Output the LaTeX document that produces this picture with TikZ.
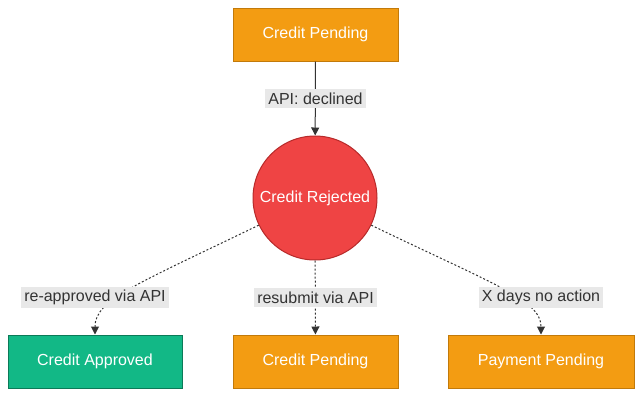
\documentclass[tikz,border=0pt]{standalone}
\usepackage{fontspec}
\setmainfont{Liberation Sans}
\usetikzlibrary{arrows.meta}
\definecolor{pend}{HTML}{F39C12}
\definecolor{pendline}{HTML}{C27A0A}
\definecolor{okfill}{HTML}{12B886}
\definecolor{okline}{HTML}{0B7A58}
\definecolor{rejfill}{HTML}{EF4444}
\definecolor{rejline}{HTML}{B72A2A}
\definecolor{ink}{HTML}{333333}
\definecolor{lblbg}{HTML}{E8E8E8}

\tikzset{
  statebox/.style={draw, line width=0.75pt, minimum height=39.75pt,
    text=white, font=\fontsize{12pt}{14pt}\selectfont},
  edgelbl/.style={fill=lblbg, text=ink, inner sep=2.5pt,
    font=\fontsize{12pt}{14pt}\selectfont},
  flow/.style={ink, line width=0.75pt, -{Triangle[length=6pt,width=6pt]}},
  dotflow/.style={flow, dash pattern=on 1.5pt off 1.5pt}
}

\begin{document}
\begin{tikzpicture}[x=0.75pt,y=-0.75pt]

  \useasboundingbox (0,0) rectangle (643,397);

  % top
  \node[statebox, fill=pend, draw=pendline, minimum width=123.75pt] (pendtop) at (315.5,34.5)
    {Credit Pending};

  % middle
  \node[circle, draw=rejline, fill=rejfill, line width=0.75pt, minimum size=93pt,
    text=white, font=\fontsize{12pt}{14pt}\selectfont] (rej) at (315,198)
    {Credit Rejected};

  % bottom row
  \node[statebox, fill=okfill, draw=okline, minimum width=130.5pt] (ok) at (95,361.5)
    {Credit Approved};
  \node[statebox, fill=pend, draw=pendline, minimum width=123.75pt] (pendlow) at (315.5,361.5)
    {Credit Pending};
  \node[statebox, fill=pend, draw=pendline, minimum width=139.5pt] (pay) at (541,361.5)
    {Payment Pending};

  % connectors
  \draw[flow] (pendtop) -- (rej);
  \draw[dotflow] (rej) .. controls (135,285) and (95,300) .. (ok);
  \draw[dotflow] (rej) -- (pendlow);
  \draw[dotflow] (rej) .. controls (495,285) and (541,300) .. (pay);

  % edge labels
  \node[edgelbl] (lbldecl) at (315.5,98.5) {API: declined};
  \node[edgelbl] (lblok) at (95,297.5) {re-approved via API};
  \node[edgelbl] (lblre) at (315.5,297.5) {resubmit via API};
  \node[edgelbl] (lblx) at (541,297.5) {X days no action};

\end{tikzpicture}
\end{document}
